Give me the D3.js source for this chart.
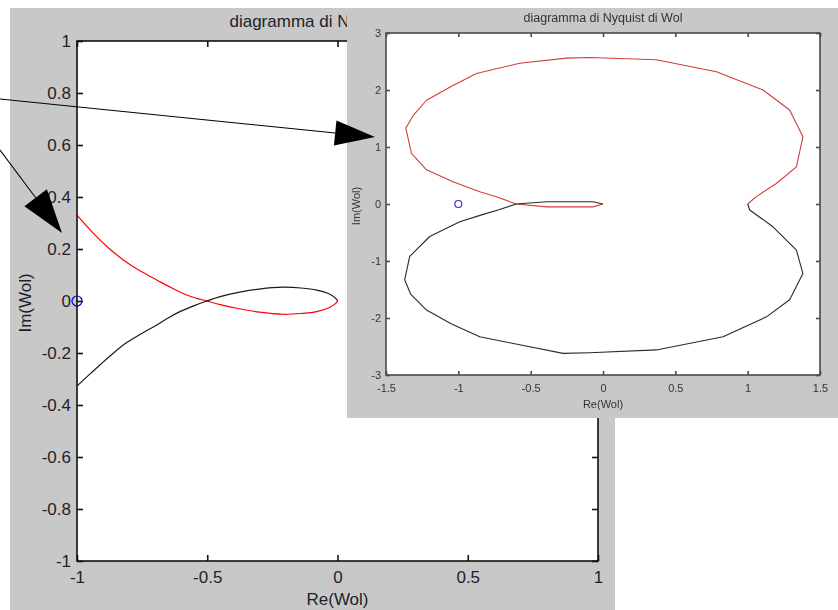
<!DOCTYPE html>
<html>
<head>
<meta charset="utf-8">
<script src="https://cdn.jsdelivr.net/npm/d3@7"></script>
<style>
  body { margin: 0; background: #fff; }
  svg { display: block; font-family: "Liberation Sans", Arial, sans-serif; }
</style>
</head>
<body>
<svg id="chart" width="838" height="610"></svg>
<script>
// zoomed Nyquist plot (main figure)
const mainXTicks = [-1, -0.5, 0, 0.5, 1]
const mainYTicks = [-1, -0.8, -0.6, -0.4, -0.2, 0, 0.2, 0.4, 0.6, 0.8, 1]
const redRe = [-1, -0.937, -0.88, -0.822, -0.76, -0.694, -0.636, -0.579, -0.54, -0.502, -0.45, -0.387, -0.3, -0.208, -0.14, -0.08, -0.029, -0.003, 0]
const redIm = [0.33, 0.26, 0.205, 0.158, 0.117, 0.081, 0.05, 0.023, 0.01, 0, -0.014, -0.028, -0.043, -0.051, -0.048, -0.041, -0.024, -0.005, 0]
const blackRe = [-1, -0.955, -0.912, -0.86, -0.809, -0.75, -0.694, -0.65, -0.605, -0.55, -0.502, -0.45, -0.38, -0.3, -0.208, -0.14, -0.08, -0.029, -0.003, 0]
const blackIm = [-0.327, -0.285, -0.246, -0.2, -0.16, -0.124, -0.092, -0.065, -0.041, -0.018, 0, 0.017, 0.033, 0.046, 0.053, 0.05, 0.042, 0.026, 0.006, 0]

// full Nyquist plot (inset)
const insetXTicks = [-1.5, -1, -0.5, 0, 0.5, 1, 1.5]
const insetYTicks = [-3, -2, -1, 0, 1, 2, 3]
const insetRedRe = [0, -0.07, -0.39, -0.6, -0.737, -0.852, -1.037, -1.22, -1.324, -1.363, -1.31, -1.22, -1.05, -0.875, -0.576, -0.253, -0.092, 0.369, 0.784, 1.106, 1.29, 1.382, 1.337, 1.198, 1.06, 1]
const insetRedIm = [0, -0.05, -0.05, 0, 0.128, 0.216, 0.39, 0.6, 0.89, 1.33, 1.56, 1.82, 2.06, 2.29, 2.47, 2.56, 2.57, 2.53, 2.32, 2, 1.65, 1.18, 0.65, 0.36, 0.13, 0]
const insetBlackRe = [0, -0.07, -0.39, -0.6, -0.72, -0.85, -0.99, -1.198, -1.336, -1.371, -1.33, -1.22, -1.05, -0.852, -0.576, -0.276, -0.092, 0.369, 0.83, 1.13, 1.29, 1.382, 1.337, 1.175, 1.014, 1]
const insetBlackIm = [0, 0.04, 0.04, 0, -0.1, -0.2, -0.31, -0.57, -0.92, -1.33, -1.58, -1.86, -2.1, -2.33, -2.47, -2.62, -2.61, -2.56, -2.33, -1.98, -1.68, -1.22, -0.81, -0.4, -0.105, 0]

// critical point -1 + 0j
const critical = [{ re: -1, im: 0 }]

const title = 'diagramma di Nyquist di Wol'
const xLabel = 'Re(Wol)'
const yLabel = 'Im(Wol)'

const zip = (re, im) => re.map((r, i) => ({ re: r, im: im[i] }))
const fmt = d => String(+d.toFixed(1))

const svg = d3.select('#chart')
const defs = svg.append('defs')

// one MATLAB-like figure: gray frame, white axes box, inward ticks
function drawFigure(g, o) {
  const x = d3.scaleLinear().domain(o.xDomain).range([o.left, o.right])
  const y = d3.scaleLinear().domain(o.yDomain).range([o.bottom, o.top])

  g.append('rect')
    .attr('x', o.frame[0]).attr('y', o.frame[1])
    .attr('width', o.frame[2]).attr('height', o.frame[3])
    .attr('fill', '#c8c8c8')
  g.append('rect')
    .attr('x', o.left).attr('y', o.top)
    .attr('width', o.right - o.left).attr('height', o.bottom - o.top)
    .attr('fill', '#fff')

  const clipId = 'clip-' + o.name
  defs.append('clipPath').attr('id', clipId).append('rect')
    .attr('x', o.left - 6).attr('y', o.top - 6)
    .attr('width', o.right - o.left + 12).attr('height', o.bottom - o.top + 12)

  const line = d3.line().x(d => x(d.re)).y(d => y(d.im)).curve(o.curve)
  const plot = g.append('g').attr('clip-path', `url(#${clipId})`)
  o.series.forEach(s => {
    plot.append('path')
      .attr('d', line(s.data))
      .attr('fill', 'none')
      .attr('stroke', s.color)
      .attr('stroke-width', o.lineWidth)
      .attr('stroke-linejoin', 'round')
  })
  plot.selectAll('circle.crit')
    .data(critical)
    .enter()
    .append('circle')
    .attr('class', 'crit')
    .attr('cx', d => x(d.re))
    .attr('cy', d => y(d.im))
    .attr('r', o.markerR)
    .attr('fill', 'none')
    .attr('stroke', o.markerColor)
    .attr('stroke-width', 1.2)

  const styleAxis = sel => {
    sel.select('.domain').remove()
    sel.selectAll('line').attr('stroke', o.axisColor).attr('stroke-width', o.axisWidth)
    sel.selectAll('text')
      .attr('fill', o.textColor)
      .style('font-size', o.tickFont + 'px')
      .style('font-family', '"Liberation Sans", Arial, sans-serif')
  }
  const ts = -o.tickLen
  g.append('g').attr('transform', `translate(0,${o.bottom})`)
    .call(d3.axisBottom(x).tickValues(o.xTicks).tickFormat(fmt).tickSize(ts).tickPadding(o.xPad))
    .call(styleAxis)
  g.append('g').attr('transform', `translate(0,${o.top})`)
    .call(d3.axisTop(x).tickValues(o.xTicks).tickFormat('').tickSize(ts))
    .call(styleAxis)
  g.append('g').attr('transform', `translate(${o.left},0)`)
    .call(d3.axisLeft(y).tickValues(o.yTicks).tickFormat(fmt).tickSize(ts).tickPadding(o.yPad))
    .call(styleAxis)
  g.append('g').attr('transform', `translate(${o.right},0)`)
    .call(d3.axisRight(y).tickValues(o.yTicks).tickFormat('').tickSize(ts))
    .call(styleAxis)

  g.append('rect')
    .attr('x', o.left).attr('y', o.top)
    .attr('width', o.right - o.left).attr('height', o.bottom - o.top)
    .attr('fill', 'none')
    .attr('stroke', o.axisColor)
    .attr('stroke-width', o.axisWidth)

  // the title of the zoomed figure is cut off where the inset is pasted over it
  let titleHost = g
  if (o.titleClip) {
    defs.append('clipPath').attr('id', 'title-' + o.name).append('rect')
      .attr('x', o.titleClip[0]).attr('y', o.titleClip[1])
      .attr('width', o.titleClip[2]).attr('height', o.titleClip[3])
    titleHost = g.append('g').attr('clip-path', `url(#title-${o.name})`)
  }
  titleHost.append('text')
    .attr('x', (o.left + o.right) / 2).attr('y', o.titleY)
    .attr('text-anchor', 'middle')
    .attr('fill', o.textColor)
    .style('font-size', o.titleFont + 'px')
    .text(title)
  g.append('text')
    .attr('x', (o.left + o.right) / 2).attr('y', o.xLabelY)
    .attr('text-anchor', 'middle')
    .attr('fill', o.textColor)
    .style('font-size', o.labelFont + 'px')
    .text(xLabel)
  g.append('text')
    .attr('transform', `translate(${o.yLabelX},${(o.top + o.bottom) / 2 + 2}) rotate(-90)`)
    .attr('text-anchor', 'middle')
    .attr('fill', o.textColor)
    .style('font-size', o.labelFont + 'px')
    .text(yLabel)
}

drawFigure(svg.append('g'), {
  name: 'main',
  frame: [10, 8, 605, 602],
  left: 77, right: 598, top: 41, bottom: 561,
  xDomain: [-1, 1], yDomain: [-1, 1],
  xTicks: mainXTicks, yTicks: mainYTicks,
  series: [
    { data: zip(redRe, redIm), color: '#ff0000' },
    { data: zip(blackRe, blackIm), color: '#1a1a1a' }
  ],
  curve: d3.curveCatmullRom,
  lineWidth: 1.2,
  markerR: 5, markerColor: '#0000ff',
  axisColor: '#111', axisWidth: 1.6, tickLen: 6,
  textColor: '#1e1f2a', tickFont: 17, titleFont: 17, labelFont: 17,
  xPad: 10, yPad: 6,
  titleY: 27, xLabelY: 605, yLabelX: 31,
  titleClip: [10, 8, 337, 30]
})

// soft blur so the pasted inset looks like the low resolution screenshot
defs.append('filter').attr('id', 'soft')
  .append('feGaussianBlur').attr('stdDeviation', 0.35)

drawFigure(svg.append('g').attr('filter', 'url(#soft)'), {
  name: 'inset',
  frame: [347, 8, 491, 410],
  left: 386, right: 820, top: 33, bottom: 375,
  xDomain: [-1.5, 1.5], yDomain: [-3, 3],
  xTicks: insetXTicks, yTicks: insetYTicks,
  series: [
    { data: zip(insetRedRe, insetRedIm), color: '#d43c3c' },
    { data: zip(insetBlackRe, insetBlackIm), color: '#2a2a2a' }
  ],
  curve: d3.curveLinear,
  lineWidth: 1.1,
  markerR: 3.5, markerColor: '#3333cc',
  axisColor: '#4a4a4a', axisWidth: 1.6, tickLen: 4,
  textColor: '#333', tickFont: 11, titleFont: 12.5, labelFont: 11,
  xPad: 9, yPad: 5,
  titleY: 22, xLabelY: 408, yLabelX: 360
})

// annotation arrows pointing from the zoom to the inset
const arrows = [
  { from: [0, 99], to: [375, 137], len: 40, half: 12.5 },
  { from: [0, 150], to: [62, 233], len: 44, half: 14 }
]
const ann = svg.append('g')
arrows.forEach(a => {
  const dx = a.to[0] - a.from[0]
  const dy = a.to[1] - a.from[1]
  const n = Math.hypot(dx, dy)
  const ux = dx / n
  const uy = dy / n
  const bx = a.to[0] - ux * a.len
  const by = a.to[1] - uy * a.len
  ann.append('line')
    .attr('x1', a.from[0]).attr('y1', a.from[1])
    .attr('x2', bx).attr('y2', by)
    .attr('stroke', '#000').attr('stroke-width', 1.1)
  ann.append('polygon')
    .attr('points', [
      [a.to[0], a.to[1]],
      [bx - uy * a.half, by + ux * a.half],
      [bx + uy * a.half, by - ux * a.half]
    ].map(p => p.join(',')).join(' '))
    .attr('fill', '#000')
})
</script>
</body>
</html>
